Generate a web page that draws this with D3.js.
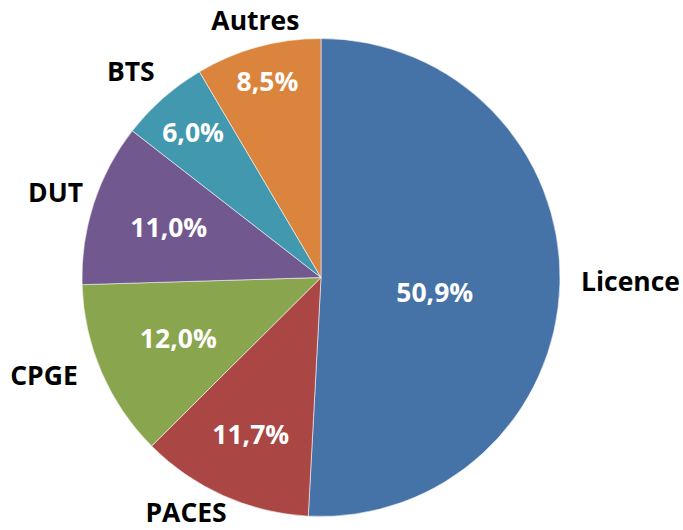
<!DOCTYPE html>
<html>
<head>
<meta charset="utf-8">
<script src="https://cdn.jsdelivr.net/npm/d3@7"></script>
<style>
  body { margin: 0; background: #fff; }
  svg { display: block; }
</style>
</head>
<body>
<div id="chart"></div>
<script>
// Données : répartition des inscrits
const categories = ["Licence", "PACES", "CPGE", "DUT", "BTS", "Autres"];
const values = [50.9, 11.7, 12.0, 11.0, 6.0, 8.5];
const colors = ["#4572A7", "#AA4643", "#89A54E", "#71588F", "#4198AF", "#DB843D"];

const width = 683, height = 530;
const cx = 321, cy = 277.5, radius = 239;
const fontSize = 26.5;

// placement "best fit" des étiquettes de valeur : fraction du rayon, décalage angulaire (degrés)
const labelRadius = [0.48, 0.72, 0.65, 0.67, 0.81, 0.85];
const labelShift = [6, 0, 0, 0, 0, 0];
// petits ajustements des étiquettes de catégorie (px)
const catNudge = [[3, -3], [-13, -5], [-9, -8], [6, -2], [-4, -5], [14, 1]];

const fmt = v => v.toFixed(1).replace(".", ",") + "%";

const svg = d3.select("#chart").append("svg")
    .attr("width", width)
    .attr("height", height)
    .style("font-family", "'Open Sans', sans-serif")
    .style("font-weight", "bold");

const g = svg.append("g").attr("transform", `translate(${cx},${cy})`);

const pie = d3.pie().sort(null).value(d => d);
const arcs = pie(values);
const arc = d3.arc().innerRadius(0).outerRadius(radius);

g.selectAll("path")
    .data(arcs)
    .enter().append("path")
    .attr("d", arc)
    .attr("fill", (d, i) => colors[i])
    .attr("stroke", "rgba(255,255,255,0.55)")
    .attr("stroke-width", 1);

// Étiquettes de valeur (blanches, dans les parts)
g.selectAll("text.value")
    .data(arcs)
    .enter().append("text")
    .attr("class", "value")
    .attr("transform", (d, i) => {
        const r = radius * labelRadius[i];
        const a = (d.startAngle + d.endAngle) / 2 + labelShift[i] * Math.PI / 180;
        return `translate(${Math.sin(a) * r},${-Math.cos(a) * r})`;
    })
    .attr("text-anchor", "middle")
    .attr("dy", "0.357em")
    .attr("fill", "#fff")
    .style("font-size", fontSize + "px")
    .text(d => fmt(d.data));

// Étiquettes de catégorie (noires, à l'extérieur) : boîte collée au cercle
const R = radius + 19;
g.selectAll("text.cat")
    .data(arcs)
    .enter().append("text")
    .attr("class", "cat")
    .attr("fill", "#000")
    .attr("text-anchor", "middle")
    .attr("dy", "0.357em")
    .style("font-size", fontSize + "px")
    .text((d, i) => categories[i])
    .each(function(d, i) {
        const a = (d.startAngle + d.endAngle) / 2;
        const w = this.getComputedTextLength();
        const h = fontSize * 0.714;
        const s = Math.sin(a), c = -Math.cos(a);
        let x = s * R + s * w / 2 + catNudge[i][0];
        x = Math.min(x, width - cx - w / 2 - 3);
        let y = c * R + c * h / 2 + catNudge[i][1];
        y = Math.min(y, height - cy - h / 2 - 8);
        d3.select(this).attr("x", x).attr("y", y);
    });
</script>
</body>
</html>
